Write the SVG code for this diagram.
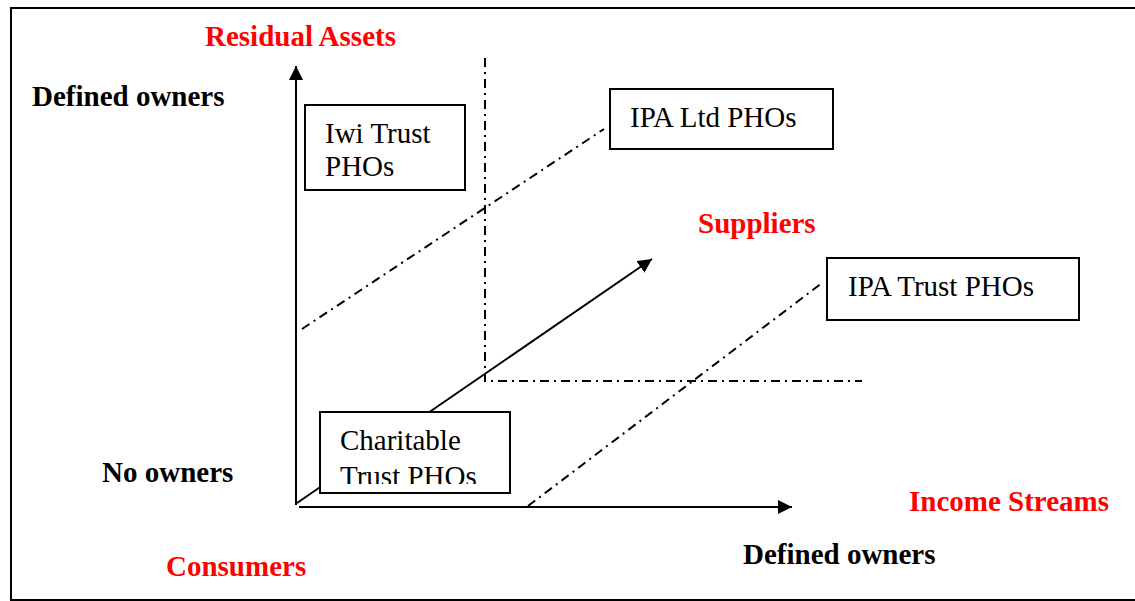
<svg xmlns="http://www.w3.org/2000/svg" width="1135" height="601" viewBox="0 0 1135 601">
<style>
.frame{fill:none;stroke:#000;stroke-width:2}
.box{fill:#fff;stroke:#000;stroke-width:2}
.axis{fill:none;stroke:#000;stroke-width:2}
.dd{fill:none;stroke:#000;stroke-width:2;stroke-dasharray:9 5 2 5}
.t{font-family:"Liberation Serif","Times New Roman",serif;font-size:29px;fill:#000}
.b{font-family:"Liberation Serif","Times New Roman",serif;font-size:29px;font-weight:bold;fill:#000}
.r{fill:#ff0000}
</style>
<defs>
<marker id="ah" viewBox="0 0 10 10" refX="10" refY="5" markerWidth="14" markerHeight="14" markerUnits="userSpaceOnUse" orient="auto">
<path d="M0,0 L10,5 L0,10 z" fill="#000"/>
</marker>
<clipPath id="cclip"><rect x="321" y="413" width="188" height="71"/></clipPath>
</defs>
<path class="frame" d="M1135,8 L11,8 L11,600 L1135,600"/>
<g id="connectors">
<line class="axis" x1="296" y1="505" x2="296" y2="66" marker-end="url(#ah)"/>
<line class="axis" x1="299" y1="507" x2="792" y2="507" marker-end="url(#ah)"/>
<line class="axis" x1="297" y1="503" x2="652" y2="259" marker-end="url(#ah)"/>
<path class="dd" d="M485,58 L485,381 L862,381"/>
<line class="dd" x1="302" y1="329" x2="604" y2="129"/>
<line class="dd" x1="528" y1="506" x2="822" y2="283"/>
</g>
<g id="iwi">
<rect class="box" x="305" y="105" width="160" height="85"/>
<text class="t" x="325" y="143">Iwi Trust</text>
<text class="t" x="325" y="176">PHOs</text>
</g>
<g id="ipaltd">
<rect class="box" x="610" y="89" width="223" height="60"/>
<text class="t" x="630" y="127">IPA Ltd PHOs</text>
</g>
<g id="ipatrust">
<rect class="box" x="827" y="258" width="252" height="62"/>
<text class="t" x="848" y="296">IPA Trust PHOs</text>
</g>
<g id="charitable">
<rect class="box" x="320" y="412" width="190" height="81"/>
<g clip-path="url(#cclip)">
<text class="t" x="340" y="450">Charitable</text>
<text class="t" x="340" y="486">Trust PHOs</text>
</g>
</g>
<g id="labels">
<text class="b r" x="205" y="46">Residual Assets</text>
<text class="b" x="32" y="106">Defined owners</text>
<text class="b r" x="698" y="233">Suppliers</text>
<text class="b" x="102" y="482">No owners</text>
<text class="b r" x="909" y="511">Income Streams</text>
<text class="b" x="743" y="564">Defined owners</text>
<text class="b r" x="166" y="576">Consumers</text>
</g>
</svg>
